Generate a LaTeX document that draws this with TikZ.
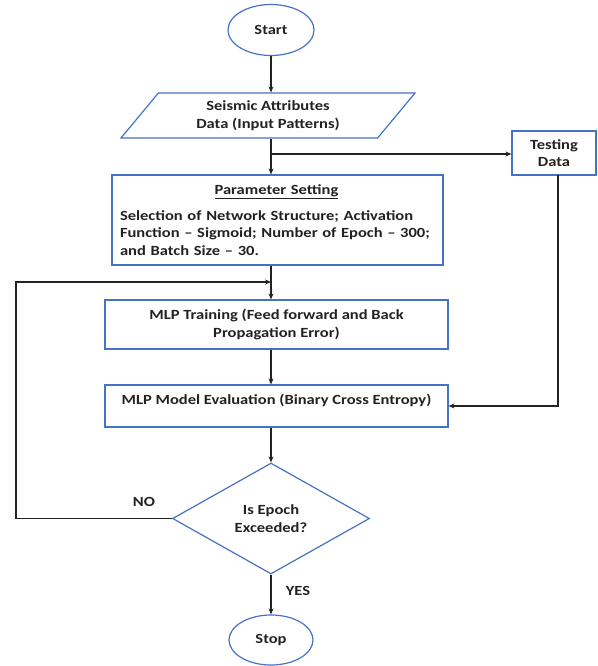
\documentclass[tikz,border=0pt]{standalone}
\usepackage{fontspec}
\setmainfont{Carlito}[FakeStretch=1.18]
\usetikzlibrary{shapes.geometric,arrows.meta}
\definecolor{boxblue}{HTML}{4472C4}
\definecolor{ink}{HTML}{222222}
\begin{document}
\begin{tikzpicture}[x=1pt,y=-1pt,
  font=\fontsize{14}{17.5}\selectfont\bfseries,
  every node/.style={text=ink},
  shapebox/.style={draw=boxblue,line width=1.2pt,inner sep=0pt},
  rectbox/.style={shapebox,rectangle,align=center},
  conn/.style={draw=ink,line width=1.2pt},
  arr/.style={conn,-{Stealth[length=6pt,width=5pt]}}]
\useasboundingbox (0,0) rectangle (597,666);
\node[shapebox,ellipse,minimum width=86pt,minimum height=51pt] (start) at (271,30) {Start};
\node[shapebox,trapezium,trapezium left angle=38.3,trapezium right angle=141.7,
  trapezium stretches body,minimum width=294pt,minimum height=45pt,align=center] (input) at (268,115.5)
  {Seismic Attributes\\Data (Input Patterns)};
\node[rectbox,minimum width=84pt,minimum height=44pt] (testing) at (554,153) {Testing\\Data};
\node[rectbox,minimum width=331pt,minimum height=90pt,text width=315pt,align=left] (param) at (277.5,220)
  {\makebox[313pt]{\underline{Parameter Setting}}\\[8pt]
   Selection of Network Structure; Activation\\
   Function -- Sigmoid; Number of Epoch -- 300;\\
   and Batch Size -- 30.};
\node[rectbox,minimum width=343pt,minimum height=49pt] (train) at (276.5,324.5)
  {MLP Training (Feed forward and Back\\Propagation Error)};
\node[rectbox,minimum width=343pt,minimum height=42pt,text height=9pt,text depth=12pt] (eval) at (276.5,406)
  {MLP Model Evaluation (Binary Cross Entropy)};
\node[shapebox,diamond,minimum width=197pt,minimum height=111pt,align=center] (decision) at (271,518.5)
  {Is Epoch\\Exceeded?};
\node[shapebox,ellipse,minimum width=84pt,minimum height=50pt] (stop) at (271,640) {Stop};
\node (no) at (144,502) {NO};
\node (yes) at (298,591) {YES};
\coordinate (branch) at (271,154);
\coordinate (merge) at (271,282);
\coordinate (loopx) at (16,282);
\coordinate (testout) at (558,175);
% connectors
\draw[arr] (start.south) -- (start.south |- input.north);
\draw[arr] (start.south |- input.south) -- (start.south |- param.north);
\draw[arr] (branch) -- (branch -| testing.west);
\draw[conn] (start.south |- param.south) -- (merge);
\draw[arr] (merge) -- (start.south |- train.north);
\draw[arr] (decision.west) -| (loopx) -- (merge);
\draw[arr] (start.south |- train.south) -- (start.south |- eval.north);
\draw[arr] (testout) |- (eval.east);
\draw[arr] (start.south |- eval.south) -- (decision.north);
\draw[arr] (decision.south) -- (stop.north);
\end{tikzpicture}
\end{document}
